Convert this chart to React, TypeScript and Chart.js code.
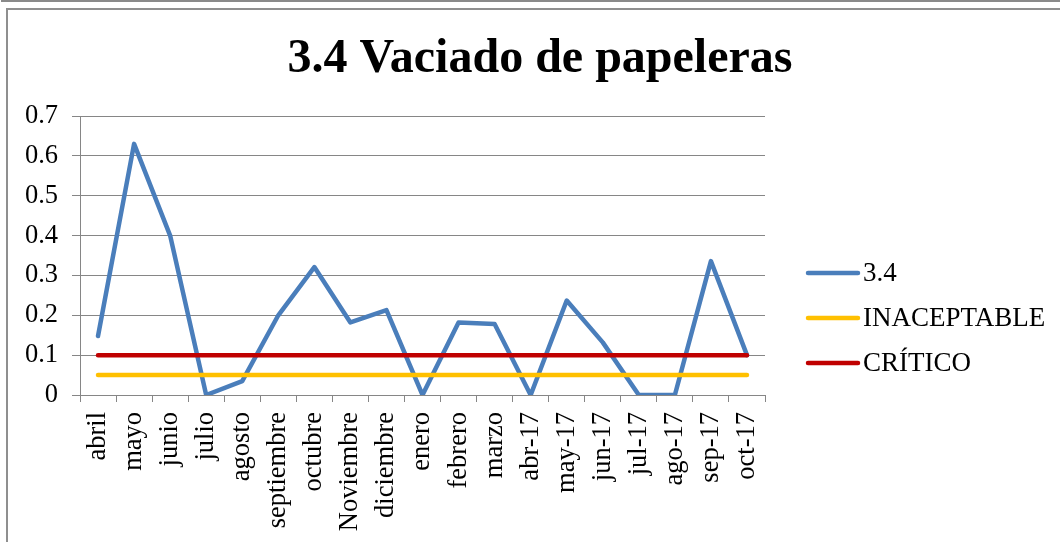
import React, { useEffect, useRef } from "react";
import { Chart, registerables } from "chart.js";

Chart.register(...registerables);

const chartTitle = "3.4 Vaciado de papeleras";

const categories = [
  "abril", "mayo", "junio", "julio", "agosto", "septiembre", "octubre",
  "Noviembre", "diciembre", "enero", "febrero", "marzo", "abr-17", "may-17",
  "jun-17", "jul-17", "ago-17", "sep-17", "oct-17",
];

const serieName = "3.4";
const serieValues = [
  0.148, 0.63, 0.40, 0, 0.035, 0.20, 0.321, 0.182, 0.213, 0,
  0.182, 0.178, 0, 0.237, 0.132, 0, 0, 0.336, 0.10,
];

const inaceptableName = "INACEPTABLE";
const inaceptableValues = [
  0.05, 0.05, 0.05, 0.05, 0.05, 0.05, 0.05, 0.05, 0.05, 0.05,
  0.05, 0.05, 0.05, 0.05, 0.05, 0.05, 0.05, 0.05, 0.05,
];

const criticoName = "CRÍTICO";
const criticoValues = [
  0.1, 0.1, 0.1, 0.1, 0.1, 0.1, 0.1, 0.1, 0.1, 0.1,
  0.1, 0.1, 0.1, 0.1, 0.1, 0.1, 0.1, 0.1, 0.1,
];

const yMin = 0;
const yMax = 0.7;
const yStep = 0.1;

const FONT = "'Liberation Serif', 'Times New Roman', serif";
const GRID = "#868686";

const sideLegend = {
  id: "sideLegend",
  afterDraw(chart: any) {
    const { ctx, chartArea } = chart;
    const x0 = chartArea.right + 43;
    const lineLen = 50;
    const rowGap = 45;
    const y0 = chartArea.top + 157;
    ctx.save();
    ctx.font = `27px ${FONT}`;
    ctx.textBaseline = "middle";
    ctx.textAlign = "left";
    chart.data.datasets.forEach((ds: any, i: number) => {
      const y = y0 + i * rowGap;
      ctx.strokeStyle = ds.borderColor;
      ctx.lineWidth = 4.5;
      ctx.lineCap = "round";
      ctx.beginPath();
      ctx.moveTo(x0, y);
      ctx.lineTo(x0 + lineLen, y);
      ctx.stroke();
      ctx.fillStyle = "#000";
      ctx.fillText(ds.label, x0 + lineLen + 5, y + 1);
    });
    ctx.restore();
  },
};

export default function App() {
  const ref = useRef<HTMLCanvasElement>(null);

  useEffect(() => {
    if (!ref.current) return;
    const lineBase = {
      borderWidth: 4.5,
      pointRadius: 0,
      pointHoverRadius: 0,
      tension: 0,
      fill: false,
      borderCapStyle: "round",
      borderJoinStyle: "round",
      clip: { left: 10, top: 10, right: 10, bottom: 0 },
    };
    const chart = new Chart(ref.current, {
      type: "line",
      data: {
        labels: categories,
        datasets: [
          { ...lineBase, label: serieName, data: serieValues, borderColor: "#4A7EBB", backgroundColor: "#4A7EBB", order: 2 },
          { ...lineBase, label: inaceptableName, data: inaceptableValues, borderColor: "#FFC000", backgroundColor: "#FFC000", order: 1 },
          { ...lineBase, label: criticoName, data: criticoValues, borderColor: "#C00000", backgroundColor: "#C00000", order: 0 },
        ] as any,
      },
      options: {
        animation: false,
        responsive: false,
        maintainAspectRatio: false,
        layout: { padding: 0 },
        plugins: {
          legend: { display: false },
          tooltip: { enabled: false },
          title: {
            display: true,
            text: chartTitle,
            color: "#000",
            font: { family: FONT, size: 48, weight: "bold" },
            padding: { top: 21, bottom: 27.4 },
          },
        },
        scales: {
          x: {
            type: "category",
            offset: true,
            grid: {
              display: true,
              drawOnChartArea: false,
              drawTicks: true,
              tickLength: 7,
              color: GRID,
              lineWidth: 1,
              offset: true,
            },
            border: { display: true, color: GRID, width: 1 },
            ticks: {
              autoSkip: false,
              maxRotation: 90,
              minRotation: 90,
              padding: 10,
              color: "#000",
              font: { family: FONT, size: 26.5 },
            },
            afterFit: (scale: any) => {
              scale.height = 147;
            },
          },
          y: {
            type: "linear",
            position: "left",
            min: yMin,
            max: yMax,
            grid: {
              display: true,
              drawOnChartArea: true,
              drawTicks: true,
              tickLength: 8,
              color: GRID,
              lineWidth: 1,
            },
            border: { display: true, color: GRID, width: 1 },
            ticks: {
              stepSize: yStep,
              padding: 14,
              color: "#000",
              font: { family: FONT, size: 26.5 },
              callback: (v: any) => Number(v).toFixed(1).replace(/\.0$/, ""),
            },
            afterFit: (scale: any) => {
              scale.width = 72;
            },
          },
          legendSpace: {
            type: "linear",
            position: "right",
            display: true,
            grid: { display: false, drawTicks: false },
            border: { display: false },
            ticks: { display: false },
            afterFit: (scale: any) => {
              scale.width = 307;
            },
          },
        },
      } as any,
      plugins: [sideLegend],
    });
    return () => chart.destroy();
  }, []);

  return (
    <div
      style={{
        position: "absolute",
        left: 0,
        top: 0,
        width: 1060,
        height: 542,
        overflow: "hidden",
        background: "#fff",
      }}
    >
      <div
        style={{
          position: "absolute",
          left: 1,
          top: -20,
          width: 1100,
          height: 20,
          borderLeft: "2px solid #8a8a8a",
          borderBottom: "2px solid #8a8a8a",
        }}
      />
      <div
        style={{
          position: "absolute",
          left: 6,
          top: 8,
          width: 1100,
          height: 600,
          borderLeft: "2px solid #8f8f8f",
          borderTop: "2px solid #8f8f8f",
        }}
      />
      <canvas
        ref={ref}
        width={1064}
        height={532}
        style={{ position: "absolute", left: 8, top: 10, width: 1064, height: 532 }}
      />
    </div>
  );
}
